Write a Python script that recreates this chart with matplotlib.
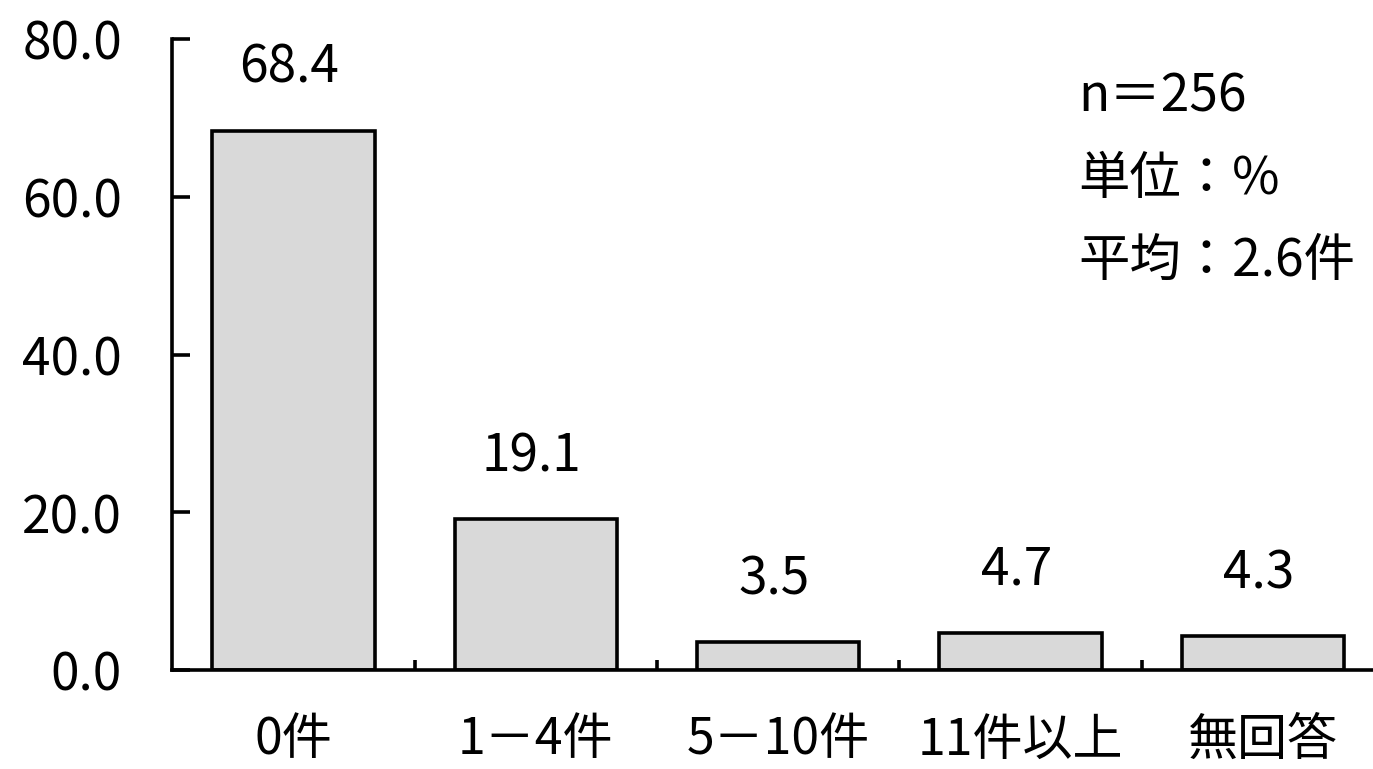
import matplotlib.pyplot as plt
from matplotlib.ticker import FormatStrFormatter

plt.rcParams["font.family"] = ["Noto Sans CJK JP", "DejaVu Sans"]

categories = ["0件", "1－4件", "5－10件", "11件以上", "無回答"]
values = [68.4, 19.1, 3.5, 4.7, 4.3]
y_ticks = [0, 20, 40, 60, 80]
note_lines = ["n＝256", "単位：%", "平均：2.6件"]


def plot_counts() -> None:
    fig = plt.figure(figsize=(13.73, 7.69), dpi=100)
    ax = fig.add_axes([0.1253, 0.1287, 0.883, 0.8205])

    x = range(len(categories))
    bars = ax.bar(x, values, width=0.67, color="#d9d9d9",
                  edgecolor="black", linewidth=2.6)
    for bar, v in zip(bars, values):
        ax.annotate(f"{v:.1f}", (bar.get_x() + bar.get_width() / 2, v),
                    xytext=(-3, 26), textcoords="offset points",
                    ha="center", va="bottom", fontsize=37)

    ax.set_xlim(-0.5, len(categories) - 0.5)
    ax.set_ylim(0, 80)
    ax.set_yticks(y_ticks)
    ax.yaxis.set_major_formatter(FormatStrFormatter("%.1f"))
    ax.tick_params(axis="y", direction="in", length=13, width=2.6,
                   labelsize=37, pad=36)

    ax.set_xticks([i + 0.5 for i in range(len(categories))])
    ax.set_xticklabels([])
    ax.set_xticks(list(x), minor=True)
    ax.set_xticklabels(categories, minor=True, fontsize=36)
    ax.tick_params(axis="x", which="major", direction="in", length=7, width=2.6)
    ax.tick_params(axis="x", which="minor", length=0, pad=32)

    for side in ("top", "right"):
        ax.spines[side].set_visible(False)
    for side in ("left", "bottom"):
        ax.spines[side].set_linewidth(2.6)
    ax.spines["bottom"].set_clip_on(False)

    for i, line in enumerate(note_lines):
        fig.text(1078 / 1373, 1 - (97 + 82 * i) / 769, line,
                 ha="left", va="center", fontsize=37)

    fig.savefig("out.png", dpi=100)


if __name__ == "__main__":
    plot_counts()
